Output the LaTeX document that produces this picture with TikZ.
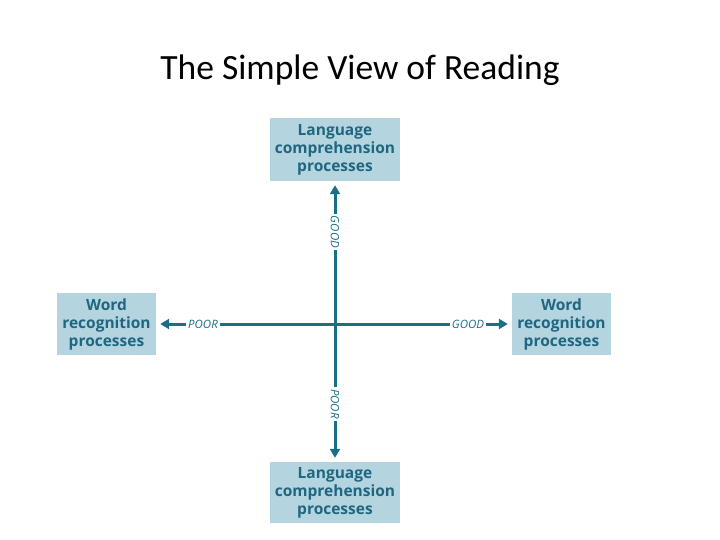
\documentclass[tikz,border=0pt]{standalone}
\usepackage{fontspec}
\setmainfont{Carlito}
\newfontfamily\boxfont{Open Sans}
\usetikzlibrary{arrows.meta}
\definecolor{boxblue}{HTML}{B4D5E0}
\definecolor{tealtext}{HTML}{1F6680}
\definecolor{axiscol}{HTML}{1A6E88}
\tikzset{
  procbox/.style={fill=boxblue, minimum width=130pt, minimum height=63pt, inner sep=1pt,
    align=center, text=tealtext, font=\boxfont\bfseries\fontsize{15.5}{18}\selectfont},
  sidebox/.style={procbox, minimum width=99pt, minimum height=62pt},
  axislabel/.style={text=axiscol, inner sep=2pt, font=\boxfont\itshape\fontsize{11.5}{12}\selectfont},
  axisline/.style={draw=axiscol, line width=3pt},
  axisarrow/.style={axisline, -{Triangle[width=10pt,length=9pt]}, shorten >=4pt}
}
\begin{document}
\begin{tikzpicture}[x=1pt,y=-1pt]
\useasboundingbox (0,0) rectangle (720,540);
\node (title) at (360,70) {\fontsize{35.5}{40}\selectfont The Simple View of Reading};
\node[procbox] (top) at (335,149.5) {Language\\comprehension\\processes};
\node[procbox, minimum height=61pt] (bottom) at (335,492.5) {Language\\comprehension\\processes};
\node[sidebox] (left) at (106.5,324) {Word\\recognition\\processes};
\node[sidebox] (right) at (561.5,324) {Word\\recognition\\processes};
\node[axislabel] (poorL) at (203,324) {POOR};
\node[axislabel] (goodR) at (468,324) {GOOD};
\node[axislabel, rotate=-90] (goodT) at (335,232) {GOOD};
\node[axislabel, rotate=-90] (poorB) at (335,404) {POOR};
\coordinate (centre) at (335,324);
\draw[axisarrow] (poorL.west) -- (left.east);
\draw[axisline] (poorL.east) -- (goodR.west);
\draw[axisarrow] (goodR.east) -- (right.west);
\draw[axisarrow] (goodT.west) -- (top.south);
\draw[axisline] (goodT.east) -- (poorB.west);
\draw[axisarrow] (poorB.east) -- (bottom.north);
\end{tikzpicture}
\end{document}
